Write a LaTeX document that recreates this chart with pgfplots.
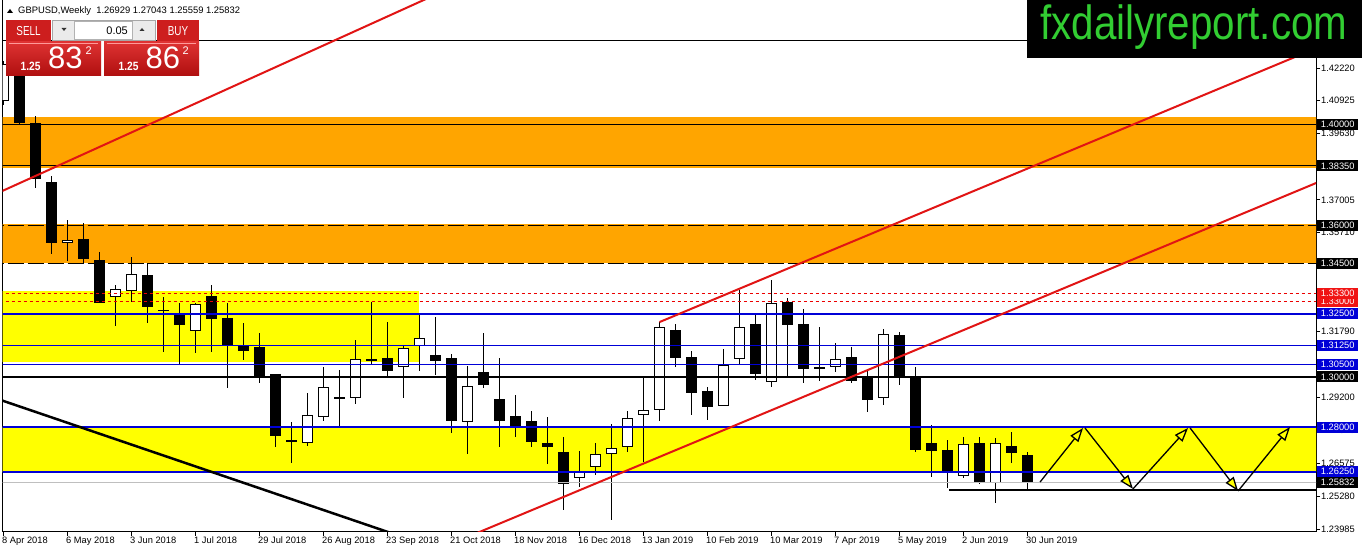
\documentclass[border=0pt]{standalone}
\usepackage{pgfplots}
\pgfplotsset{compat=1.18}
\usepackage{pgfplotstable}
\usepackage{graphicx}
\usepackage{fontspec}
\setmainfont{Liberation Sans}
\usetikzlibrary{arrows.meta}

\definecolor{mtorange}{RGB}{255,165,0}
\definecolor{mtyellow}{RGB}{255,255,0}
\definecolor{mtblue}{RGB}{0,0,215}
\definecolor{mtred}{RGB}{225,20,20}
\definecolor{dashred}{RGB}{235,0,0}
\definecolor{lblred}{RGB}{240,20,20}
\definecolor{btnred}{RGB}{205,30,30}
\definecolor{btnlight}{RGB}{222,50,50}
\definecolor{btndark}{RGB}{175,15,15}
\definecolor{logogreen}{RGB}{50,205,50}

% weekly GBPUSD candles, k = weeks since 8 Apr 2018
\pgfplotstableread{
k O H L C
0 1.4092 1.4248 1.4075 1.4238
1 1.4240 1.4377 1.3998 1.4003
2 1.4003 1.4032 1.3746 1.3782
3 1.3770 1.3795 1.3485 1.3529
4 1.3531 1.3621 1.3460 1.3542
5 1.3544 1.3608 1.3450 1.3466
6 1.3462 1.3494 1.3291 1.3294
7 1.3315 1.3362 1.3203 1.3347
8 1.3339 1.3473 1.3295 1.3406
9 1.3403 1.3452 1.3212 1.3275
10 1.3265 1.3315 1.3100 1.3261
11 1.3252 1.3294 1.3051 1.3207
12 1.3183 1.3294 1.3093 1.3289
13 1.3320 1.3364 1.3100 1.3230
14 1.3232 1.3291 1.2955 1.3126
15 1.3122 1.3212 1.3067 1.3104
16 1.3117 1.3173 1.2975 1.3001
17 1.3010 1.3011 1.2722 1.2768
18 1.2749 1.2823 1.2661 1.2745
19 1.2740 1.2935 1.2728 1.2848
20 1.2840 1.3040 1.2827 1.2959
21 1.2920 1.3027 1.2807 1.2912
22 1.2915 1.3146 1.2893 1.3070
23 1.3070 1.3298 1.3051 1.3062
24 1.3074 1.3219 1.3001 1.3025
25 1.3038 1.3126 1.2918 1.3113
26 1.3122 1.3252 1.3025 1.3153
27 1.3085 1.3236 1.3008 1.3064
28 1.3075 1.3091 1.2777 1.2827
29 1.2823 1.3043 1.2694 1.2964
30 1.3019 1.3175 1.2957 1.2969
31 1.2913 1.3074 1.2722 1.2827
32 1.2845 1.2929 1.2761 1.2806
33 1.2826 1.2865 1.2724 1.2744
34 1.2738 1.2843 1.2656 1.2724
35 1.2703 1.2761 1.2474 1.2578
36 1.2599 1.2707 1.2563 1.2625
37 1.2643 1.2737 1.2612 1.2694
38 1.2694 1.2814 1.2434 1.2718
39 1.2722 1.2865 1.2704 1.2836
40 1.2848 1.2998 1.2662 1.2869
41 1.2869 1.3219 1.2827 1.3196
42 1.3186 1.3209 1.3040 1.3076
43 1.3078 1.3103 1.2849 1.2938
44 1.2944 1.2961 1.2830 1.2882
45 1.2886 1.3109 1.2884 1.3047
46 1.3070 1.3344 1.3051 1.3199
47 1.3209 1.3248 1.2988 1.3010
48 1.2981 1.3383 1.2959 1.3291
49 1.3296 1.3311 1.3001 1.3205
50 1.3209 1.3267 1.2977 1.3030
51 1.3038 1.3196 1.2985 1.3030
52 1.3038 1.3135 1.3021 1.3070
53 1.3078 1.3117 1.2977 1.2985
54 1.3001 1.3027 1.2863 1.2909
55 1.2917 1.3190 1.2889 1.3170
56 1.3166 1.3178 1.2968 1.2996
57 1.2996 1.3039 1.2703 1.2711
58 1.2738 1.2810 1.2604 1.2708
59 1.2711 1.2751 1.2559 1.2621
60 1.2608 1.2762 1.2600 1.2735
61 1.2740 1.2762 1.2577 1.2584
62 1.2582 1.2758 1.2503 1.2737
63 1.2727 1.2782 1.2658 1.2698
64 1.26929 1.27043 1.25559 1.25832
}\candles

\begin{document}
\begin{tikzpicture}[x=1pt,y=1pt]
\path[use as bounding box] (0,0) rectangle (1362,553);
\fill[white] (0,0) rectangle (1362,553);

\begin{axis}[
  at={(2.5pt,21pt)}, anchor=south west,
  scale only axis, width=1313.5pt, height=532pt,
  xmin=-0.0625, xmax=82.03, ymin=1.23866, ymax=1.44910,
  clip mode=individual,
  axis line style={line width=1pt},
  xtick={0,4,...,64},
  xticklabels={8 Apr 2018,6 May 2018,3 Jun 2018,1 Jul 2018,29 Jul 2018,26 Aug 2018,23 Sep 2018,21 Oct 2018,18 Nov 2018,16 Dec 2018,13 Jan 2019,10 Feb 2019,10 Mar 2019,7 Apr 2019,5 May 2019,2 Jun 2019,30 Jun 2019},
  ytick={1.42220,1.40925,1.39630,1.37005,1.35710,1.31790,1.29200,1.27870,1.26575,1.25280,1.23985},
  yticklabels={1.42220,1.40925,1.39630,1.37005,1.35710,1.31790,1.29200,1.27870,1.26575,1.25280,1.23985},
  scaled y ticks=false,
  xtick pos=left, ytick pos=right, yticklabel pos=right,
  tick align=outside, major tick length=4pt,
  tick style={black, line width=0.8pt},
  tick label style={font=\fontsize{9.3}{10}\selectfont},
  xticklabel style={anchor=north west, inner sep=0pt, xshift=-1.5pt, yshift=-1pt},
  yticklabel style={anchor=west, inner sep=0pt, xshift=1pt},
]
% zones
\addplot[fill=mtorange, draw=none] coordinates {(-1,1.3828) (90,1.3828) (90,1.4027) (-1,1.4027)} -- cycle;
\addplot[fill=mtorange, draw=none] coordinates {(-1,1.3450) (90,1.3450) (90,1.3603) (-1,1.3603)} -- cycle;
\addplot[fill=mtyellow, draw=none] coordinates {(-1,1.3060) (25.97,1.3060) (25.97,1.3341) (-1,1.3341)} -- cycle;
\addplot[fill=mtyellow, draw=none] coordinates {(-1,1.2625) (90,1.2625) (90,1.2800) (-1,1.2800)} -- cycle;

% candles: wicks, bodies, white fill of rising weeks
\addplot[draw=none, mark=none,
  error bars/.cd, y dir=both, y explicit, error mark=none,
  error bar style={draw=black, line width=1pt}]
  table[x=k, y expr={(\thisrow{H}+\thisrow{L})/2}, y error expr={(\thisrow{H}-\thisrow{L})/2}] {\candles};
\addplot[draw=none, mark=none,
  error bars/.cd, y dir=both, y explicit, error mark=none,
  error bar style={draw=black, line width=11pt}]
  table[x=k, y expr={(\thisrow{O}+\thisrow{C})/2}, y error expr={abs(\thisrow{C}-\thisrow{O})/2}] {\candles};
\addplot[draw=none, mark=none,
  restrict expr to domain={\thisrow{C}-\thisrow{O}}{0.0005:1},
  error bars/.cd, y dir=both, y explicit, error mark=none,
  error bar style={draw=white, line width=9pt}]
  table[x=k, y expr={(\thisrow{O}+\thisrow{C})/2}, y error expr={(\thisrow{C}-\thisrow{O})/2-0.0004}] {\candles};

% horizontal levels
\addplot[black, line width=1pt] coordinates {(-1,1.4329) (90,1.4329)};
\addplot[black, line width=1pt] coordinates {(-1,1.4000) (90,1.4000)};
\addplot[black, line width=1pt] coordinates {(-1,1.3835) (90,1.3835)};
\addplot[black, line width=1pt, dash pattern=on 16pt off 4pt] coordinates {(-1,1.3600) (90,1.3600)};
\addplot[black, line width=1pt, dash pattern=on 16pt off 4pt] coordinates {(-1,1.3450) (90,1.3450)};
\addplot[dashred, line width=1pt, dash pattern=on 3.5pt off 2.5pt] coordinates {(-1,1.3330) (90,1.3330)};
\addplot[dashred, line width=1pt, dash pattern=on 3.5pt off 2.5pt] coordinates {(-1,1.3300) (90,1.3300)};
\addplot[mtblue, line width=2pt] coordinates {(-1,1.3250) (90,1.3250)};
\addplot[mtblue, line width=1pt] coordinates {(-1,1.3125) (90,1.3125)};
\addplot[mtblue, line width=1pt] coordinates {(-1,1.3050) (90,1.3050)};
\addplot[black, line width=2pt] coordinates {(-1,1.3000) (90,1.3000)};
\addplot[mtblue, line width=2pt] coordinates {(-1,1.2800) (90,1.2800)};
\addplot[mtblue, line width=2pt] coordinates {(-1,1.2625) (90,1.2625)};
\addplot[black!25, line width=1pt] coordinates {(-1,1.25832) (90,1.25832)};
\addplot[black, line width=2pt] coordinates {(59.1,1.2553) (90,1.2553)};

% trend lines
\addplot[mtred, line width=2pt] coordinates {(-1,1.3709) (27,1.4512)};
\addplot[mtred, line width=2pt] coordinates {(41.0,1.3217) (83,1.43258)};
\addplot[mtred, line width=2pt] coordinates {(25,1.22613) (83,1.37925)};
\addplot[black, line width=2.5pt] coordinates {(-1,1.29264) (26,1.23440)};

% projected zigzag
\addplot[black, line width=1.3pt, -{Triangle[length=14pt,width=10pt,fill=mtyellow]}] coordinates {(64.78,1.2584) (67.47,1.2798)};
\addplot[black, line width=1.3pt, -{Triangle[length=14pt,width=10pt,fill=mtyellow]}] coordinates {(67.59,1.2798) (70.59,1.2557)};
\addplot[black, line width=1.3pt, -{Triangle[length=14pt,width=10pt,fill=mtyellow]}] coordinates {(70.59,1.2557) (74.03,1.2798)};
\addplot[black, line width=1.3pt, -{Triangle[length=14pt,width=10pt,fill=mtyellow]}] coordinates {(74.16,1.2798) (77.16,1.2549)};
\addplot[black, line width=1.3pt, -{Triangle[length=14pt,width=10pt,fill=mtyellow]}] coordinates {(77.16,1.2549) (80.41,1.2802)};

\coordinate (p1) at (axis cs:82.03,1.40000);
\coordinate (p2) at (axis cs:82.03,1.38350);
\coordinate (p3) at (axis cs:82.03,1.36000);
\coordinate (p4) at (axis cs:82.03,1.34500);
\coordinate (p5) at (axis cs:82.03,1.33000);
\coordinate (p6) at (axis cs:82.03,1.33300);
\coordinate (p7) at (axis cs:82.03,1.32500);
\coordinate (p8) at (axis cs:82.03,1.31250);
\coordinate (p9) at (axis cs:82.03,1.30500);
\coordinate (p10) at (axis cs:82.03,1.30000);
\coordinate (p11) at (axis cs:82.03,1.28000);
\coordinate (p12) at (axis cs:82.03,1.26250);
\coordinate (p13) at (axis cs:82.03,1.25832);
\end{axis}

% price labels of the levels
\tikzset{plbl/.style={anchor=west, xshift=1pt, inner sep=0pt, minimum width=41pt, minimum height=11pt, text=white, font=\fontsize{9.3}{10}\selectfont}}
\node[plbl, fill=black] at (p1) {1.40000};
\node[plbl, fill=black] at (p2) {1.38350};
\node[plbl, fill=black] at (p3) {1.36000};
\node[plbl, fill=black] at (p4) {1.34500};
\node[plbl, fill=lblred] at (p5) {1.33000};
\node[plbl, fill=lblred] at (p6) {1.33300};
\node[plbl, fill=mtblue] at (p7) {1.32500};
\node[plbl, fill=mtblue] at (p8) {1.31250};
\node[plbl, fill=mtblue] at (p9) {1.30500};
\node[plbl, fill=black] at (p10) {1.30000};
\node[plbl, fill=mtblue] at (p11) {1.28000};
\node[plbl, fill=mtblue] at (p12) {1.26250};
\node[plbl, fill=black] at (p13) {1.25832};

% title line
\fill (7,540) -- (13,540) -- (10,544) -- cycle;
\node[anchor=base west, inner sep=0pt, font=\fontsize{9.4}{10}\selectfont] at (18,539) {GBPUSD,Weekly\ \ 1.26929 1.27043 1.25559 1.25832};

% one-click trading panel
\fill[btnred] (6,512) rectangle (51,533);
\fill[btnred] (157,512) rectangle (199,533);
\shade[top color=btnlight, bottom color=btndark] (6,477) rectangle (101,511);
\shade[top color=btnlight, bottom color=btndark] (104,477) rectangle (199,511);
\draw[red!40!white, line width=0.6pt] (9,510) -- (98,510);
\draw[red!40!white, line width=0.6pt] (107,510) -- (196,510);
\fill[black!8] (52,513) rectangle (155,533);
\draw[black!35, line width=0.5pt] (52,513) rectangle (155,533);
\fill[white] (74,514) rectangle (132,532);
\draw[black!30, line width=0.4pt] (74,514) rectangle (132,532);
\fill[black!80] (61.5,525) -- (66.5,525) -- (64,522) -- cycle;
\fill[black!80] (139.5,522) -- (144.5,522) -- (142,525) -- cycle;
\node[anchor=base east, inner sep=0pt, font=\fontsize{11}{12}\selectfont] at (128,518) {0.05};
\node[anchor=base, inner sep=0pt, text=white] at (28.5,517) {\scalebox{0.76}[1]{\fontsize{13}{14}\selectfont SELL}};
\node[anchor=base, inner sep=0pt, text=white] at (178,517) {\scalebox{0.76}[1]{\fontsize{13}{14}\selectfont BUY}};
\node[anchor=base west, inner sep=0pt, text=white] at (20.5,482) {\scalebox{0.85}[1]{\fontsize{12}{13}\selectfont\bfseries 1.25}};
\node[anchor=base west, inner sep=0pt, text=white, font=\fontsize{31}{32}\selectfont] at (48,484) {83};
\node[anchor=base west, inner sep=0pt, text=white, font=\fontsize{11}{12}\selectfont] at (85.5,498) {2};
\node[anchor=base west, inner sep=0pt, text=white] at (118.5,482) {\scalebox{0.85}[1]{\fontsize{12}{13}\selectfont\bfseries 1.25}};
\node[anchor=base west, inner sep=0pt, text=white, font=\fontsize{31}{32}\selectfont] at (145.5,484) {86};
\node[anchor=base west, inner sep=0pt, text=white, font=\fontsize{11}{12}\selectfont] at (182.5,498) {2};

% site logo
\fill[black] (1027,495) rectangle (1362,553);
\node[anchor=base west, inner sep=0pt, text=logogreen] at (1040,513) {\scalebox{0.84}[1]{\fontsize{48}{50}\selectfont fxdailyreport.com}};
\end{tikzpicture}
\end{document}
